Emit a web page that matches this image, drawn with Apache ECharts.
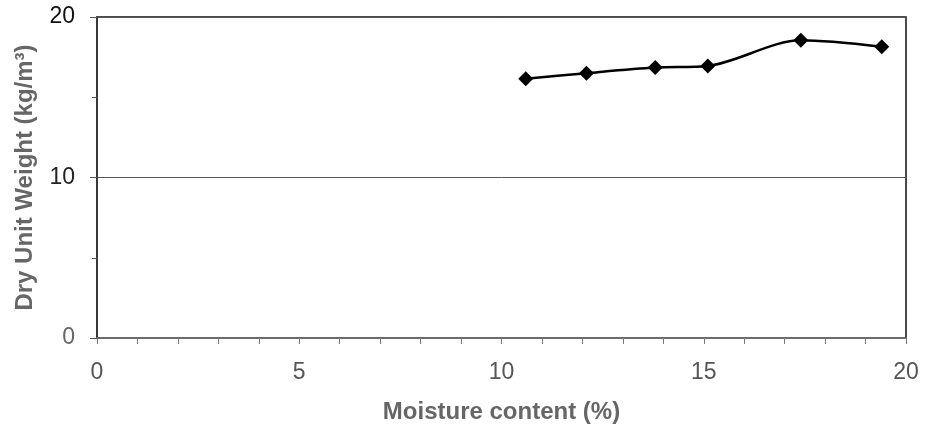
<!DOCTYPE html>
<html><head><meta charset="utf-8">
<script src="https://cdn.jsdelivr.net/npm/echarts@6/dist/echarts.min.js"></script>
<style>html,body{margin:0;padding:0;background:#fff}#c{width:925px;height:430px}</style>
</head><body><div id="c"></div>
<script>
var moisture = [10.6, 12.1, 13.8, 15.1, 17.4, 19.4];
var dryUnitWeight = [16.15, 16.5, 16.85, 16.95, 18.55, 18.15];
var xTicks = [0, 5, 10, 15, 20];
var yTicks = [0, 10, 20];

var chart = echarts.init(document.getElementById('c'));
chart.setOption({
  animation: false,
  backgroundColor: '#fff',
  grid: { left: 97, top: 17, right: 19, bottom: 92, show: true, borderColor: '#111', borderWidth: 1.5, backgroundColor: 'transparent' },
  xAxis: {
    type: 'value', min: xTicks[0], max: xTicks[xTicks.length - 1], interval: 5,
    name: 'Moisture content (%)', nameLocation: 'middle', nameGap: 62,
    nameTextStyle: { fontFamily: 'Liberation Sans', fontSize: 24, fontWeight: 'bold', color: '#666' },
    axisLine: { show: true, lineStyle: { color: '#777', width: 1.5 } },
    axisTick: { show: true, inside: false, length: 6, lineStyle: { color: '#777' } },
    minorTick: { show: true, splitNumber: 5, length: 6, lineStyle: { color: '#777' } },
    axisLabel: { margin: 23, fontFamily: 'Liberation Sans', fontSize: 23, color: '#555' },
    splitLine: { show: false }
  },
  yAxis: {
    type: 'value', min: yTicks[0], max: yTicks[yTicks.length - 1], interval: 10,
    name: 'Dry Unit Weight (kg/m³)', nameLocation: 'middle', nameGap: 60,
    nameTextStyle: { fontFamily: 'Liberation Sans', fontSize: 24, fontWeight: 'bold', color: '#666' },
    axisLine: { show: true, lineStyle: { color: '#333', width: 1.5 } },
    axisTick: { show: true, inside: false, length: 7, lineStyle: { color: '#555' } },
    minorTick: { show: true, splitNumber: 2, length: 5, lineStyle: { color: '#555' } },
    axisLabel: {
      margin: 22, fontFamily: 'Liberation Sans', fontSize: 23,
      color: function (v) { return v >= 20 ? '#111' : (v >= 10 ? '#222' : '#666'); }
    },
    splitLine: { show: true, lineStyle: { color: '#555', width: 1 } }
  },
  series: [{
    type: 'line',
    data: moisture.map(function (x, i) { return [x, dryUnitWeight[i]]; }),
    smooth: 0.3,
    symbol: 'diamond', symbolSize: 15,
    lineStyle: { color: '#000', width: 2.5 },
    itemStyle: { color: '#000' }
  }]
});
</script></body></html>
